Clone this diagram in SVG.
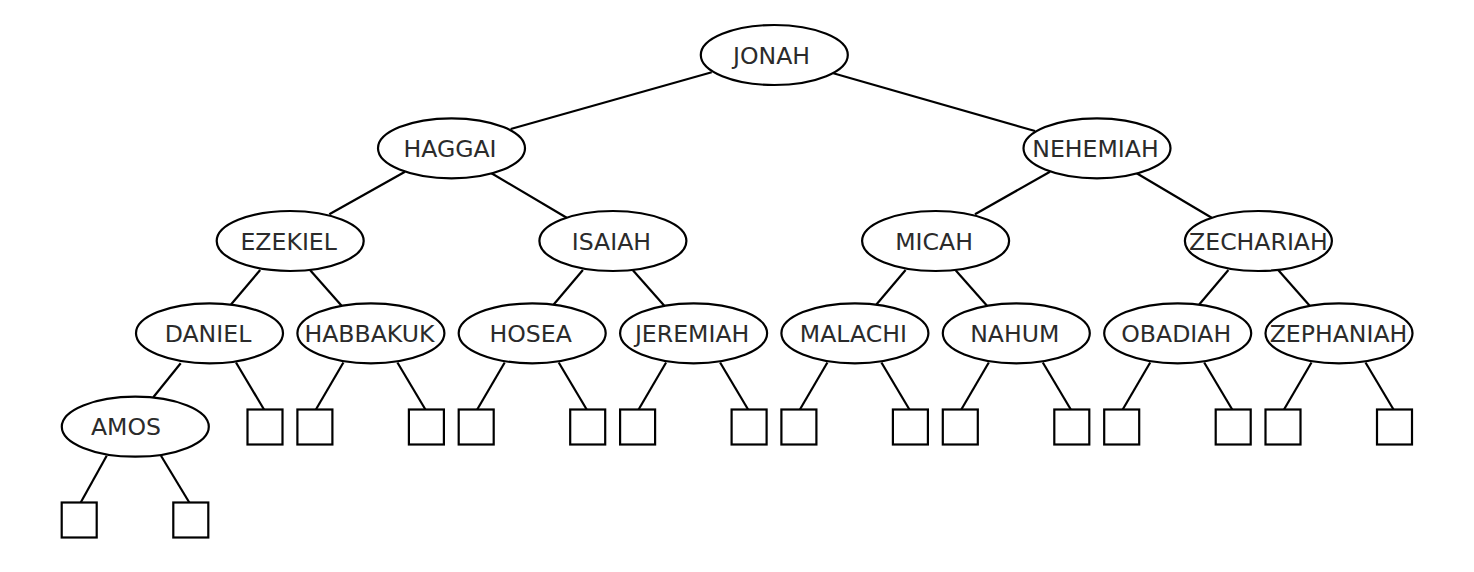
<svg xmlns="http://www.w3.org/2000/svg" width="1474" height="572" viewBox="0 0 1474 572">
<style>
.n ellipse{fill:#fff;stroke:#000;stroke-width:2.2}
.n text{font-family:"DejaVu Sans",sans-serif;font-size:23.6px;fill:#2b2b2b;text-anchor:middle}
.leaf{fill:#fff;stroke:#000;stroke-width:2.2}
#edges line{stroke:#000;stroke-width:2.2;stroke-linecap:butt}
</style>
<rect width="1474" height="572" fill="#fff"/>
<g id="edges">
<line x1="711.7" y1="72.3" x2="510.7" y2="129"/>
<line x1="833.3" y1="73.3" x2="1035" y2="131"/>
<line x1="405" y1="171.7" x2="329.3" y2="214.3"/>
<line x1="491.5" y1="173.3" x2="566.7" y2="217.7"/>
<line x1="1050" y1="171.7" x2="975" y2="214.3"/>
<line x1="1136.7" y1="173.3" x2="1211.7" y2="217.7"/>
<line x1="260.2" y1="270" x2="231" y2="304.5"/>
<line x1="310.2" y1="270.3" x2="341.4" y2="305.5"/>
<line x1="582.9" y1="270" x2="553.7" y2="304.5"/>
<line x1="632.9" y1="270.3" x2="664.1" y2="305.5"/>
<line x1="905.6" y1="270" x2="876.4" y2="304.5"/>
<line x1="955.6" y1="270.3" x2="986.8" y2="305.5"/>
<line x1="1228.4" y1="270" x2="1199.2" y2="304.5"/>
<line x1="1278.4" y1="270.3" x2="1309.5" y2="305.5"/>
<line x1="180.7" y1="363.3" x2="153.3" y2="397.3"/>
<line x1="236" y1="362.5" x2="264" y2="409.5"/>
<line x1="343.4" y1="362.5" x2="315.9" y2="409.5"/>
<line x1="397.4" y1="362.5" x2="425.4" y2="409.5"/>
<line x1="504.7" y1="362.5" x2="477.2" y2="409.5"/>
<line x1="558.7" y1="362.5" x2="586.7" y2="409.5"/>
<line x1="666.1" y1="362.5" x2="638.6" y2="409.5"/>
<line x1="720.1" y1="362.5" x2="748.1" y2="409.5"/>
<line x1="827.4" y1="362.5" x2="799.9" y2="409.5"/>
<line x1="881.4" y1="362.5" x2="909.4" y2="409.5"/>
<line x1="988.8" y1="362.5" x2="961.3" y2="409.5"/>
<line x1="1042.8" y1="362.5" x2="1070.8" y2="409.5"/>
<line x1="1150.2" y1="362.5" x2="1122.7" y2="409.5"/>
<line x1="1204.2" y1="362.5" x2="1232.2" y2="409.5"/>
<line x1="1311.5" y1="362.5" x2="1284" y2="409.5"/>
<line x1="1365.5" y1="362.5" x2="1393.5" y2="409.5"/>
<line x1="106.7" y1="455.7" x2="80.7" y2="502.5"/>
<line x1="161" y1="455.7" x2="189.3" y2="502.5"/>
</g>
<g id="JONAH" class="n"><ellipse cx="774.3" cy="55" rx="73.5" ry="30"/><text x="771.5" y="63.6">JONAH</text></g>
<g id="HAGGAI" class="n"><ellipse cx="451.5" cy="148.3" rx="73.5" ry="30"/><text x="450" y="156.9">HAGGAI</text></g>
<g id="NEHEMIAH" class="n"><ellipse cx="1097" cy="148.3" rx="73.5" ry="30"/><text x="1095.5" y="156.9">NEHEMIAH</text></g>
<g id="EZEKIEL" class="n"><ellipse cx="290.2" cy="241" rx="73.5" ry="30"/><text x="288.7" y="249.6">EZEKIEL</text></g>
<g id="ISAIAH" class="n"><ellipse cx="612.9" cy="241" rx="73.5" ry="30"/><text x="611.4" y="249.6">ISAIAH</text></g>
<g id="MICAH" class="n"><ellipse cx="935.6" cy="241" rx="73.5" ry="30"/><text x="934.1" y="249.6">MICAH</text></g>
<g id="ZECHARIAH" class="n"><ellipse cx="1258.4" cy="241" rx="73.5" ry="30"/><text x="1258.4" y="249.6">ZECHARIAH</text></g>
<g id="DANIEL" class="n"><ellipse cx="209.5" cy="333.3" rx="73.5" ry="30"/><text x="208" y="341.9">DANIEL</text></g>
<g id="HABBAKUK" class="n"><ellipse cx="370.9" cy="333.3" rx="73.5" ry="30"/><text x="369.4" y="341.9">HABBAKUK</text></g>
<g id="HOSEA" class="n"><ellipse cx="532.2" cy="333.3" rx="73.5" ry="30"/><text x="530.7" y="341.9">HOSEA</text></g>
<g id="JEREMIAH" class="n"><ellipse cx="693.6" cy="333.3" rx="73.5" ry="30"/><text x="692.1" y="341.9">JEREMIAH</text></g>
<g id="MALACHI" class="n"><ellipse cx="854.9" cy="333.3" rx="73.5" ry="30"/><text x="853.4" y="341.9">MALACHI</text></g>
<g id="NAHUM" class="n"><ellipse cx="1016.3" cy="333.3" rx="73.5" ry="30"/><text x="1014.8" y="341.9">NAHUM</text></g>
<g id="OBADIAH" class="n"><ellipse cx="1177.7" cy="333.3" rx="73.5" ry="30"/><text x="1176.2" y="341.9">OBADIAH</text></g>
<g id="ZEPHANIAH" class="n"><ellipse cx="1339" cy="333.3" rx="73.5" ry="30"/><text x="1338.5" y="341.9">ZEPHANIAH</text></g>
<g id="AMOS" class="n"><ellipse cx="135.3" cy="426.7" rx="73.5" ry="30"/><text x="126" y="435.3">AMOS</text></g>
<g id="leaves">
<rect class="leaf" x="247.5" y="409.5" width="35" height="35"/>
<rect class="leaf" x="297.4" y="409.5" width="35" height="35"/>
<rect class="leaf" x="408.9" y="409.5" width="35" height="35"/>
<rect class="leaf" x="458.7" y="409.5" width="35" height="35"/>
<rect class="leaf" x="570.2" y="409.5" width="35" height="35"/>
<rect class="leaf" x="620.1" y="409.5" width="35" height="35"/>
<rect class="leaf" x="731.6" y="409.5" width="35" height="35"/>
<rect class="leaf" x="781.4" y="409.5" width="35" height="35"/>
<rect class="leaf" x="892.9" y="409.5" width="35" height="35"/>
<rect class="leaf" x="942.8" y="409.5" width="35" height="35"/>
<rect class="leaf" x="1054.3" y="409.5" width="35" height="35"/>
<rect class="leaf" x="1104.2" y="409.5" width="35" height="35"/>
<rect class="leaf" x="1215.7" y="409.5" width="35" height="35"/>
<rect class="leaf" x="1265.5" y="409.5" width="35" height="35"/>
<rect class="leaf" x="1377" y="409.5" width="35" height="35"/>
<rect class="leaf" x="61.7" y="502.5" width="35" height="35"/>
<rect class="leaf" x="173.3" y="502.5" width="35" height="35"/>
</g>
</svg>
